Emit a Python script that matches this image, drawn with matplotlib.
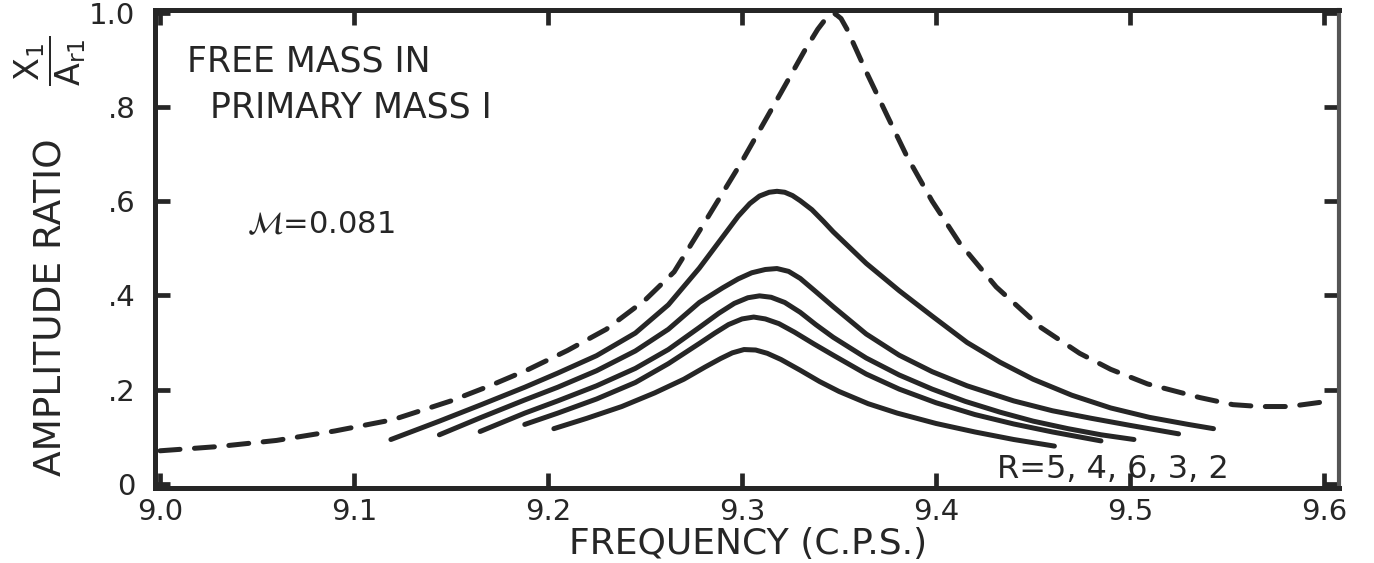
import matplotlib.pyplot as plt
import numpy as np

# values (frequency in c.p.s., amplitude ratio)
peak_f = [9.000, 9.030, 9.060, 9.090, 9.120, 9.150, 9.170, 9.190, 9.210, 9.230,
          9.250, 9.265, 9.280, 9.300, 9.320, 9.332, 9.339, 9.344, 9.348, 9.351,
          9.354, 9.364, 9.375, 9.385, 9.398, 9.412, 9.431, 9.454, 9.474, 9.490,
          9.509, 9.536, 9.553, 9.567, 9.582, 9.600]
peak_a = [0.070, 0.079, 0.092, 0.112, 0.136, 0.176, 0.208, 0.243, 0.283, 0.328,
          0.390, 0.450, 0.550, 0.685, 0.830, 0.918, 0.965, 0.992, 0.998, 0.988,
          0.966, 0.875, 0.780, 0.695, 0.600, 0.512, 0.418, 0.332, 0.277, 0.243,
          0.212, 0.183, 0.168, 0.164, 0.164, 0.174]

r2_f = [9.119, 9.144, 9.165, 9.188, 9.205, 9.225, 9.245, 9.262, 9.278, 9.292,
        9.298, 9.304, 9.309, 9.314, 9.318, 9.322, 9.326, 9.330, 9.336, 9.342,
        9.347, 9.364, 9.381, 9.398, 9.416, 9.433, 9.450, 9.470, 9.490, 9.510,
        9.530, 9.543]
r2_a = [0.094, 0.133, 0.167, 0.205, 0.235, 0.272, 0.320, 0.380, 0.458, 0.535,
        0.568, 0.595, 0.611, 0.619, 0.621, 0.619, 0.612, 0.601, 0.582, 0.557,
        0.535, 0.468, 0.410, 0.356, 0.300, 0.258, 0.222, 0.188, 0.161, 0.141,
        0.126, 0.117]

r3_f = [9.144, 9.165, 9.188, 9.205, 9.225, 9.245, 9.262, 9.278, 9.290, 9.298,
        9.305, 9.312, 9.318, 9.324, 9.330, 9.338, 9.347, 9.364, 9.381, 9.398,
        9.416, 9.440, 9.460, 9.480, 9.500, 9.525]
r3_a = [0.104, 0.140, 0.178, 0.205, 0.240, 0.282, 0.328, 0.385, 0.416, 0.435,
        0.448, 0.455, 0.457, 0.451, 0.436, 0.408, 0.376, 0.318, 0.273, 0.238,
        0.208, 0.176, 0.155, 0.139, 0.124, 0.106]

r6_f = [9.165, 9.188, 9.205, 9.225, 9.245, 9.262, 9.278, 9.288, 9.296, 9.303,
        9.309, 9.315, 9.322, 9.330, 9.338, 9.347, 9.364, 9.381, 9.398, 9.415,
        9.433, 9.450, 9.468, 9.485, 9.502]
r6_a = [0.111, 0.150, 0.176, 0.208, 0.245, 0.285, 0.332, 0.362, 0.383, 0.395,
        0.399, 0.396, 0.385, 0.364, 0.338, 0.311, 0.267, 0.231, 0.201, 0.175,
        0.152, 0.133, 0.117, 0.104, 0.094]

r4_f = [9.188, 9.205, 9.225, 9.245, 9.262, 9.278, 9.286, 9.293, 9.300, 9.306,
        9.312, 9.319, 9.327, 9.337, 9.347, 9.364, 9.381, 9.400, 9.420, 9.440,
        9.460, 9.485]
r4_a = [0.126, 0.150, 0.180, 0.215, 0.255, 0.298, 0.320, 0.338, 0.350, 0.354,
        0.350, 0.340, 0.322, 0.297, 0.273, 0.233, 0.201, 0.172, 0.147, 0.127,
        0.110, 0.091]

r5_f = [9.203, 9.220, 9.238, 9.255, 9.270, 9.281, 9.289, 9.295, 9.301, 9.307,
        9.313, 9.320, 9.330, 9.340, 9.350, 9.365, 9.380, 9.400, 9.420, 9.440,
        9.461]
r5_a = [0.117, 0.139, 0.164, 0.193, 0.222, 0.248, 0.266, 0.278, 0.285, 0.284,
        0.277, 0.264, 0.241, 0.217, 0.196, 0.170, 0.150, 0.128, 0.110, 0.094,
        0.080]

x_ticks = [9.0, 9.1, 9.2, 9.3, 9.4, 9.5, 9.6]
x_labels = ['9.0', '9.1', '9.2', '9.3', '9.4', '9.5', '9.6']
y_ticks = [0, 0.2, 0.4, 0.6, 0.8, 1.0]
y_labels = ['0', '.2', '.4', '.6', '.8', '1.0']

ink = '#262626'
W, H = 1374, 563

plt.rcParams['font.family'] = ['DejaVu Sans']
plt.rcParams['mathtext.fontset'] = 'dejavusans'

fig = plt.figure(figsize=(W / 100, H / 100), dpi=100)
ax = fig.add_axes([155 / W, 1 - 488 / H, (1339 - 155) / W, (488 - 10) / H])

# free mass curve (dashed) and the R curves (solid)
ax.plot(peak_f, peak_a, color=ink, lw=3.6, linestyle=(0, (4.0, 2.9)),
        dash_capstyle='round', solid_joinstyle='round')
for f, a in [(r2_f, r2_a), (r3_f, r3_a), (r6_f, r6_a), (r4_f, r4_a), (r5_f, r5_a)]:
    ax.plot(f, a, color=ink, lw=3.6, solid_capstyle='round', solid_joinstyle='round')

ax.set_xlim(8.9974, 9.6077)
ax.set_ylim(-0.009, 1.006)

ax.set_xticks(x_ticks)
ax.set_xticklabels(x_labels)
ax.set_yticks(y_ticks)
ax.set_yticklabels(y_labels)
ax.tick_params(direction='in', length=11, width=3.4, color=ink, labelsize=21,
               labelcolor=ink, top=True, right=True)
ax.tick_params(axis='x', pad=7)
ax.tick_params(axis='y', pad=14)

for side in ['left', 'bottom', 'top']:
    ax.spines[side].set_linewidth(3.6)
    ax.spines[side].set_color(ink)
ax.spines['right'].set_linewidth(3.0)
ax.spines['right'].set_color('#555555')

fig.text(187 / W, 1 - 72 / H, 'FREE MASS IN', fontsize=25, color=ink, va='baseline')
fig.text(210 / W, 1 - 118 / H, 'PRIMARY MASS I', fontsize=25, color=ink, va='baseline')
fig.text(247 / W, 1 - 233 / H, r'$\mathcal{M}$=0.081', fontsize=22, color=ink,
         va='baseline')
fig.text(997 / W, 1 - 478 / H, 'R=5, 4, 6, 3, 2', fontsize=23, color=ink, va='baseline')

fig.text(748 / W, 1 - 544 / H, 'FREQUENCY (C.P.S.)', fontsize=26, color=ink,
         ha='center', va='center')
fig.text(52 / W, 1 - 307 / H, 'AMPLITUDE RATIO', fontsize=27, color=ink,
         rotation=90, ha='center', va='center')
fig.text(50 / W, 1 - 61 / H, r'$\dfrac{\mathrm{X_1}}{\mathrm{A_{r1}}}$', fontsize=24,
         color=ink, rotation=90, ha='center', va='center')

fig.savefig('out.png', dpi=100)
